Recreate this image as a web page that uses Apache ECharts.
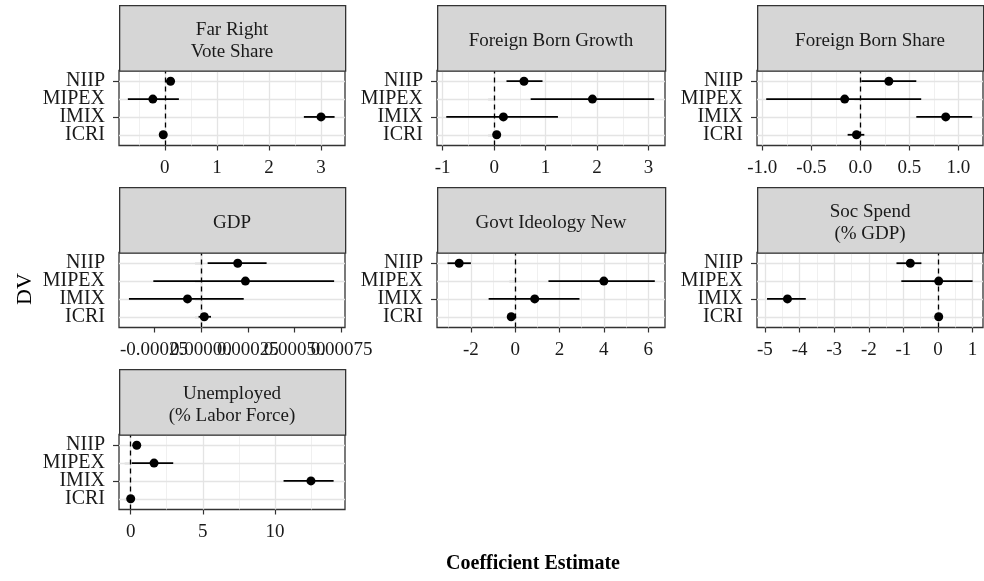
<!DOCTYPE html>
<html>
<head>
<meta charset="utf-8">
<script src="https://cdn.jsdelivr.net/npm/echarts@6/dist/echarts.min.js"></script>
<style>
  html, body { margin: 0; padding: 0; background: #fff; }
  #chart { width: 984px; height: 581px; }
</style>
</head>
<body>
<div id="chart"></div>
<script>
// categories bottom -> top (y value = index + 1)
const categories = ['ICRI', 'IMIX', 'MIPEX', 'NIIP'];

const panelTitles = [
  'Far Right\nVote Share',
  'Foreign Born Growth',
  'Foreign Born Share',
  'GDP',
  'Govt Ideology New',
  'Soc Spend\n(% GDP)',
  'Unemployed\n(% Labor Force)'
];

// estimates / lower / upper, ordered ICRI, IMIX, MIPEX, NIIP
const farRightEst = [-0.03, 3.0, -0.23, 0.11];
const farRightLo  = [-0.08, 2.67, -0.71, 0.02];
const farRightHi  = [0.02, 3.26, 0.27, 0.19];

const fbGrowthEst = [0.05, 0.18, 1.91, 0.58];
const fbGrowthLo  = [-0.02, -0.93, 0.71, 0.24];
const fbGrowthHi  = [0.12, 1.24, 3.11, 0.94];

const fbShareEst = [-0.04, 0.87, -0.16, 0.29];
const fbShareLo  = [-0.13, 0.57, -0.96, 0.01];
const fbShareHi  = [0.04, 1.14, 0.62, 0.57];

const gdpEst = [0.0000177, -0.0000717, 0.000237, 0.000196];
const gdpLo  = [-0.0000128, -0.000384, -0.000254, 0.0000355];
const gdpHi  = [0.0000535, 0.000228, 0.00071, 0.00035];

const govtEst = [-0.18, 0.88, 4.0, -2.53];
const govtLo  = [-0.3, -1.2, 1.5, -3.06];
const govtHi  = [0.04, 2.9, 6.3, -2.0];

const socEst = [0.02, -4.35, 0.02, -0.8];
const socLo  = [-0.05, -4.94, -1.06, -1.2];
const socHi  = [0.08, -3.82, 1.0, -0.48];

const unempEst = [0.0, 12.5, 1.62, 0.42];
const unempLo  = [-0.1, 10.6, 0.07, 0.15];
const unempHi  = [0.1, 14.07, 2.95, 0.7];

// axis ranges and tick labels
const xMin = [-0.88, -1.11, -1.054, -0.000437, -3.53, -5.23, -0.81];
const xMax = [3.46, 3.32, 1.25, 0.000768, 6.76, 1.30, 14.86];
const xBreaks = [
  [0, 1, 2, 3],
  [-1, 0, 1, 2, 3],
  [-1, -0.5, 0, 0.5, 1],
  [-0.00025, 0, 0.00025, 0.0005, 0.00075],
  [-2, 0, 2, 4, 6],
  [-5, -4, -3, -2, -1, 0, 1],
  [0, 5, 10]
];
const xLabels = [
  ['0', '1', '2', '3'],
  ['-1', '0', '1', '2', '3'],
  ['-1.0', '-0.5', '0.0', '0.5', '1.0'],
  ['-0.00025', '0.00000', '0.00025', '0.00050', '0.00075'],
  ['-2', '0', '2', '4', '6'],
  ['-5', '-4', '-3', '-2', '-1', '0', '1'],
  ['0', '5', '10']
];
const xMinor = [
  [-0.5, 0.5, 1.5, 2.5],
  [-0.5, 0.5, 1.5, 2.5],
  [-0.75, -0.25, 0.25, 0.75],
  [-0.000375, -0.000125, 0.000125, 0.000375, 0.000625],
  [-3, -1, 1, 3, 5],
  [-4.5, -3.5, -2.5, -1.5, -0.5, 0.5],
  [2.5, 7.5, 12.5]
];

const panelData = [
  [farRightEst, farRightLo, farRightHi],
  [fbGrowthEst, fbGrowthLo, fbGrowthHi],
  [fbShareEst, fbShareLo, fbShareHi],
  [gdpEst, gdpLo, gdpHi],
  [govtEst, govtLo, govtHi],
  [socEst, socLo, socHi],
  [unempEst, unempLo, unempHi]
];

const FONT = '"Liberation Serif", "Times New Roman", serif';
const colLeft = [119, 437, 757];
const colWidth = [226, 228, 226];
const stripTop = [5, 187, 369];
const stripH = 65.5;
const panelH = 75;

const myChart = echarts.init(document.getElementById('chart'), null, {renderer: 'canvas'});

const grids = [], xAxes = [], yAxes = [], series = [], graphics = [];

function makeXAxis(i, values) {
  const breaks = xBreaks[i], labels = xLabels[i];
  return {
    type: 'value', gridIndex: i, min: xMin[i], max: xMax[i], position: 'bottom',
    axisLine: {show: false},
    splitLine: {show: false},
    axisTick: {show: true, length: 5, customValues: values, lineStyle: {color: '#333', width: 1.2}},
    axisLabel: {
      customValues: values, margin: 13, color: '#1a1a1a', fontFamily: FONT, fontSize: 19,
      hideOverlap: false, showMinLabel: true, showMaxLabel: true,
      formatter: v => {
        let k = 0;
        breaks.forEach((b, j) => { if (Math.abs(b - v) < Math.abs(breaks[k] - v)) k = j; });
        return labels[k];
      }
    }
  };
}

function makeYAxis(i, values) {
  return {
    type: 'value', gridIndex: i, min: 0.4, max: 4.6, position: 'left',
    axisLine: {show: false},
    splitLine: {show: false},
    axisTick: {show: true, length: 6, customValues: values, lineStyle: {color: '#333', width: 1.2}},
    axisLabel: {
      customValues: values, margin: 14, color: '#1a1a1a', fontFamily: FONT, fontSize: 20,
      hideOverlap: false, showMinLabel: true, showMaxLabel: true,
      formatter: v => categories[Math.round(v) - 1]
    }
  };
}

panelData.forEach((d, i) => {
  const col = i % 3, row = Math.floor(i / 3);
  const left = colLeft[col], width = colWidth[col];
  const top = stripTop[row] + stripH;

  grids.push({
    left: left, top: top, width: width, height: panelH,
    show: true, backgroundColor: '#fff', borderColor: '#333', borderWidth: 1.3
  });

  const breaks = xBreaks[i];
  const xIdx = xAxes.length;
  // GDP labels overlap each other in the original: split them over two axes
  if (i === 3) {
    xAxes.push(makeXAxis(i, breaks.filter((b, j) => j % 2 === 0)));
    xAxes.push(makeXAxis(i, breaks.filter((b, j) => j % 2 === 1)));
  } else {
    xAxes.push(makeXAxis(i, breaks));
  }
  // category labels sit very tight; split over two axes so none are dropped
  const yIdx = yAxes.length;
  yAxes.push(makeYAxis(i, [1, 3]));
  yAxes.push(makeYAxis(i, [2, 4]));

  // grid lines
  const gridLines = [];
  xMinor[i].forEach(v => gridLines.push({xAxis: v, lineStyle: {color: '#ececec', width: 0.8, type: 'solid'}}));
  breaks.forEach(v => gridLines.push({xAxis: v, lineStyle: {color: '#e4e4e4', width: 1.3, type: 'solid'}}));
  [1, 2, 3, 4].forEach(v => gridLines.push({yAxis: v, lineStyle: {color: '#e4e4e4', width: 1.3, type: 'solid'}}));
  series.push({
    type: 'line', xAxisIndex: xIdx, yAxisIndex: yIdx, data: [], z: 1, silent: true,
    markLine: {z: 1, symbol: ['none', 'none'], silent: true, label: {show: false}, data: gridLines}
  });

  // zero reference line
  series.push({
    type: 'line', xAxisIndex: xIdx, yAxisIndex: yIdx, data: [], z: 2, silent: true,
    markLine: {
      z: 2, symbol: ['none', 'none'], silent: true, label: {show: false},
      lineStyle: {color: '#000', width: 1.3, type: [5, 4]},
      data: [{xAxis: 0}]
    }
  });

  const [est, lo, hi] = d;
  // error bars
  series.push({
    type: 'custom', xAxisIndex: xIdx, yAxisIndex: yIdx, z: 3,
    encode: {x: [0, 1], y: 2},
    data: categories.map((c, k) => [lo[k], hi[k], k + 1]),
    renderItem: (params, api) => {
      const p1 = api.coord([api.value(0), api.value(2)]);
      const p2 = api.coord([api.value(1), api.value(2)]);
      return {
        type: 'line',
        shape: {x1: p1[0], y1: p1[1], x2: p2[0], y2: p2[1]},
        style: {stroke: '#000', lineWidth: 1.8}
      };
    }
  });
  // point estimates
  series.push({
    type: 'scatter', xAxisIndex: xIdx, yAxisIndex: yIdx, z: 4,
    symbol: 'circle', symbolSize: 9,
    itemStyle: {color: '#000', opacity: 1},
    data: categories.map((c, k) => [est[k], k + 1])
  });

  // facet strip
  graphics.push({
    type: 'rect', left: left, top: stripTop[row], z: 10,
    shape: {width: width, height: stripH},
    style: {fill: '#d6d6d6', stroke: '#333', lineWidth: 1.3}
  });
  graphics.push({
    type: 'text', x: left + width / 2, y: stripTop[row] + stripH / 2 + 3, z: 11,
    style: {
      text: panelTitles[i], textAlign: 'center', textVerticalAlign: 'middle',
      font: '19px ' + FONT, fill: '#1a1a1a', lineHeight: 22
    }
  });
});

graphics.push({
  type: 'text', x: 533, y: 564, z: 11,
  style: {
    text: 'Coefficient Estimate', textAlign: 'center', textVerticalAlign: 'middle',
    font: 'bold 20px ' + FONT, fill: '#000'
  }
});
graphics.push({
  type: 'text', x: 25, y: 289, rotation: Math.PI / 2, z: 11,
  style: {
    text: 'DV', textAlign: 'center', textVerticalAlign: 'middle',
    font: '22px ' + FONT, fill: '#000'
  }
});

const option = {
  animation: false,
  backgroundColor: '#fff',
  grid: grids,
  xAxis: xAxes,
  yAxis: yAxes,
  series: series,
  graphic: graphics
};

myChart.setOption(option);
</script>
</body>
</html>
